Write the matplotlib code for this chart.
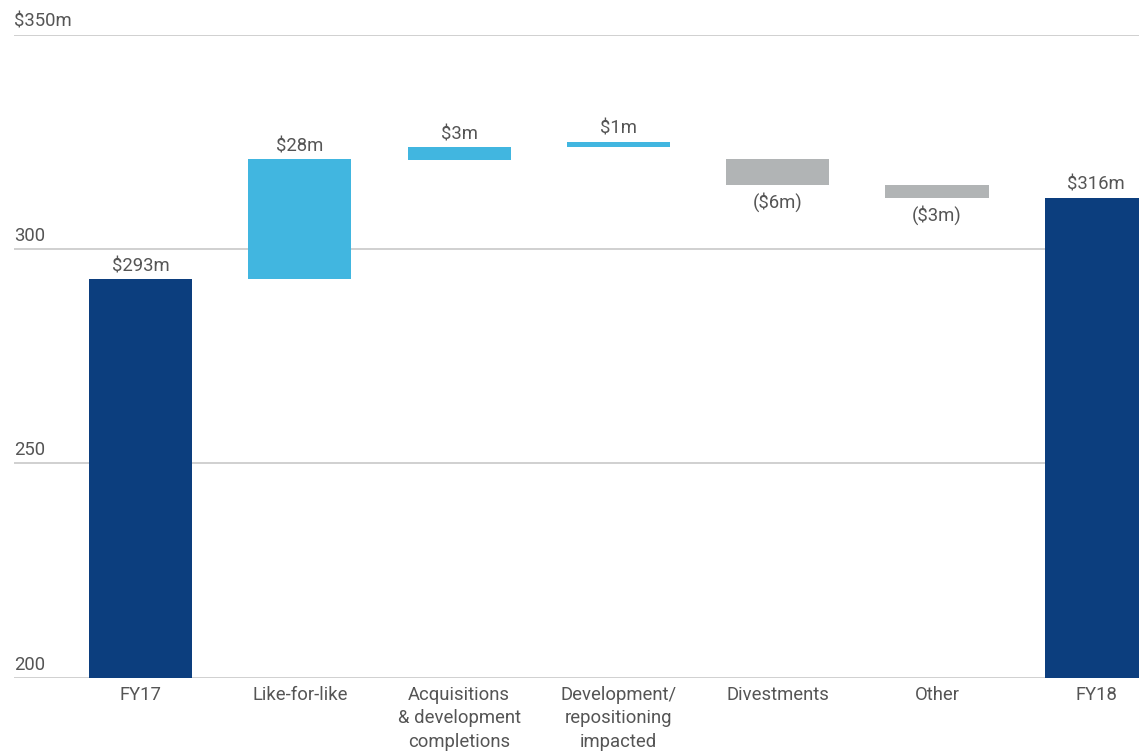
import matplotlib.pyplot as plt

plt.rcParams['font.family'] = ['Roboto', 'DejaVu Sans']

categories = ["FY17", "Like-for-like", "Acquisitions\n& development\ncompletions",
              "Development/\nrepositioning\nimpacted", "Divestments", "Other", "FY18"]
values = [293, 28, 3, 1, -6, -3, 316]          # labelled amounts ($m)
bar_bottoms = [200, 293, 320.8, 323.8, 321, 315, 200]   # as drawn in the source
bar_tops = [293, 321, 323.8, 325, 315, 312, 312]
kinds = ["total", "up", "up", "up", "down", "down", "total"]
yticks = [200, 250, 300, 350]
ytick_labels = ["200", "250", "300", "$350m"]

colors = {"total": "#0c3e7e", "up": "#41b6e0", "down": "#b1b4b5"}
text_color = "#555555"
fs = 13.3

fig = plt.figure(figsize=(11.39, 7.51), dpi=100)
ax = fig.add_axes([0.0123, 0.0976, 0.9877, 0.8558])

x = list(range(len(categories)))
heights = [t - b for b, t in zip(bar_bottoms, bar_tops)]
ax.bar(x, heights, bottom=bar_bottoms, width=0.647,
       color=[colors[k] for k in kinds], zorder=3)

for i, v in enumerate(values):
    if v >= 0:
        label = f"${v}m"
        y = max(bar_bottoms[i], bar_tops[i])
        ax.annotate(label, (i, y), xytext=(0, 3), textcoords="offset points",
                    ha="center", va="bottom", fontsize=fs, color=text_color)
    else:
        label = f"(${-v}m)"
        y = min(bar_bottoms[i], bar_tops[i])
        ax.annotate(label, (i, y), xytext=(0, -5), textcoords="offset points",
                    ha="center", va="top", fontsize=fs, color=text_color)

ax.set_xlim(-0.794, 6.268)
ax.set_ylim(200, 350)

for yt, lab in zip(yticks, ytick_labels):
    ax.axhline(yt, color="#c8c8c8", linewidth=1.2, zorder=1)
    ax.annotate(lab, (0, yt), xycoords=ax.get_yaxis_transform(),
                xytext=(0, 3), textcoords="offset points",
                ha="left", va="bottom", fontsize=fs, color=text_color)

ax.set_yticks([])
ax.set_xticks(x)
ax.set_xticklabels(categories, fontsize=fs, color=text_color, linespacing=1.38)
ax.tick_params(axis="x", length=0, pad=6)
for s in ax.spines.values():
    s.set_visible(False)

fig.savefig("out.png", dpi=100)
